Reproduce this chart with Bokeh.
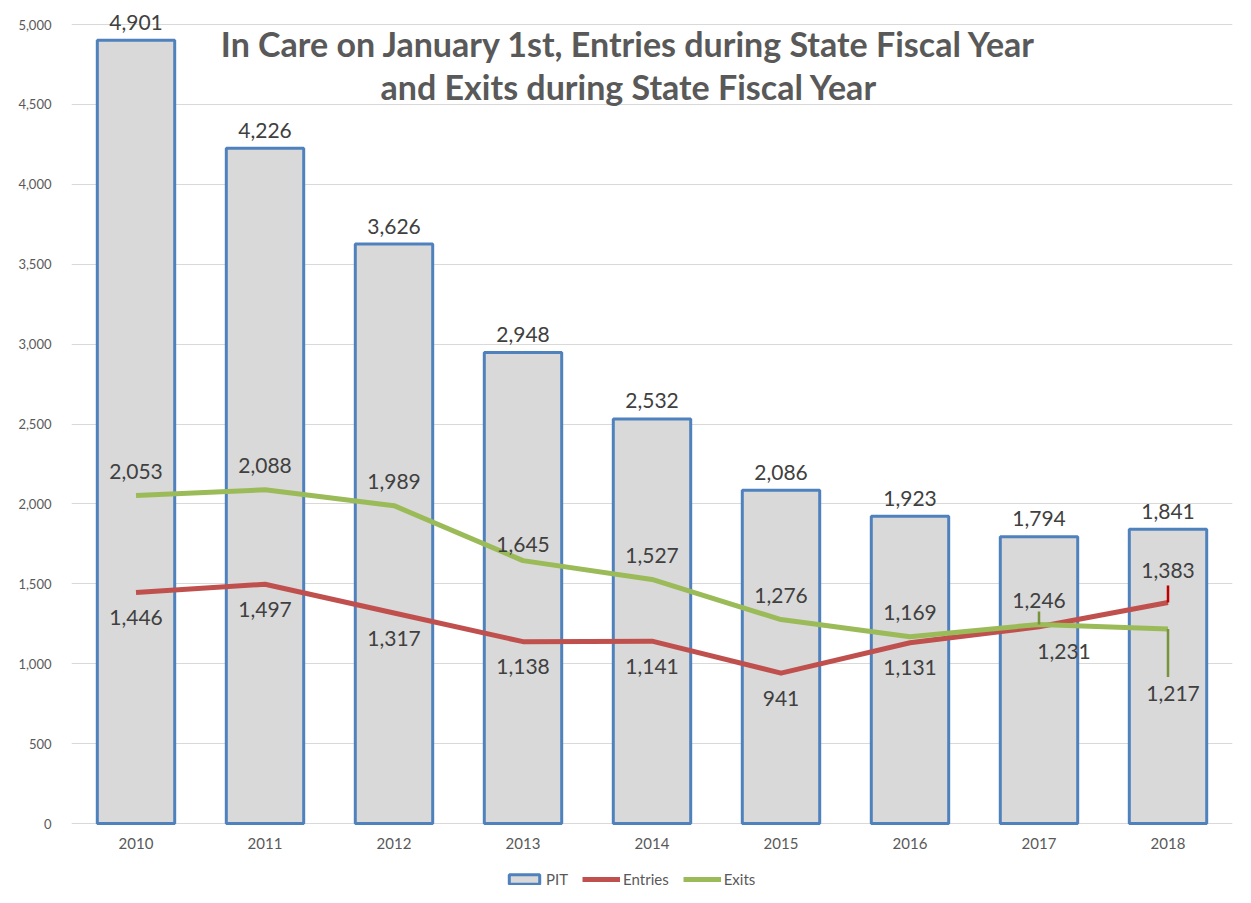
from bokeh.plotting import figure
from bokeh.models import (ColumnDataSource, Range1d, FactorRange, Legend, LegendItem,
                          NumeralTickFormatter, FixedTicker, Label)
from bokeh.core.properties import value
from bokeh.embed import file_html
from bokeh.resources import INLINE

# ---- data ----
years = ["2010", "2011", "2012", "2013", "2014", "2015", "2016", "2017", "2018"]
pit = [4901, 4226, 3626, 2948, 2532, 2086, 1923, 1794, 1841]
entries = [1446, 1497, 1317, 1138, 1141, 941, 1131, 1231, 1383]
exits = [2053, 2088, 1989, 1645, 1527, 1276, 1169, 1246, 1217]
y_ticks = [0, 500, 1000, 1500, 2000, 2500, 3000, 3500, 4000, 4500, 5000]
title_lines = ["In Care on January 1st, Entries during State Fiscal Year",
               "and Exits during State Fiscal Year"]

# ---- layout constants (pixels) ----
W, H = 1235, 887
LEFT, RIGHT, TOP = 71, 3, 8
ZERO_PX = 823          # page y of value 0
TOP_VAL_PX = 24        # page y of value 5000
k = (ZERO_PX - TOP_VAL_PX) / 5000.0   # px per unit
px = 1.0 / k                          # units per px
Y_MAX = 5000 + (TOP_VAL_PX - TOP) * px
Y_MIN = -(H - ZERO_PX) * px

def y_at(py):
    return (ZERO_PX - py) * px

FONT = "Lato"
TXT = "#404040"
AX = "#595959"

def fmt(v):
    return f"{v:,}"

src = ColumnDataSource(dict(x=years, pit=pit, entries=entries, exits=exits))

p = figure(x_range=FactorRange(factors=years, range_padding=0),
           y_range=Range1d(Y_MIN, Y_MAX), width=W, height=H,
           output_backend="svg", toolbar_location=None, x_axis_location=None,
           min_border_left=LEFT, min_border_right=RIGHT,
           min_border_top=TOP, min_border_bottom=0)
p.outline_line_color = None
p.background_fill_color = "white"

bars = p.vbar(x="x", top="pit", width=0.6, fill_color="#D9D9D9",
              line_color="#4F81BD", line_width=3, source=src)
l_ent = p.line(x="x", y="entries", line_color="#C0504D", line_width=5,
               line_join="round", source=src)
l_ex = p.line(x="x", y="exits", line_color="#9BBB59", line_width=5,
              line_join="round", source=src)

# leader lines for shifted labels
n = len(years)
lead_src = ColumnDataSource(dict(
    x0=[years[n - 1], years[n - 2], years[n - 1]],
    y0=[entries[n - 1], exits[n - 2], exits[n - 1]],
    x1=[years[n - 1], years[n - 2], years[n - 1]],
    y1=[entries[n - 1] + 17 * px, exits[n - 2] + 13 * px, exits[n - 1] - 48 * px],
    c=["#C00000", "#77933C", "#77933C"],
))
p.segment(x0="x0", y0="y0", x1="x1", y1="y1",
          line_color="c", line_width=2.5, source=lead_src)

# ---- data labels ----
LAB_SIZE = "21px"
bar_lab = ColumnDataSource(dict(x=years, y=pit, t=[fmt(v) for v in pit]))
p.text(x="x", y="y", text="t", source=bar_lab, text_font=value(FONT),
       text_font_size=LAB_SIZE, text_color=TXT, text_align="center",
       text_baseline="middle", y_offset=-18)

ent_dy = [25] * n
ent_dy[n - 1] = -32
ent_dx = [0] * n
ent_dx[n - 2] = 25
ent_lab = ColumnDataSource(dict(x=years, y=entries, t=[fmt(v) for v in entries],
                                dx=ent_dx, dy=ent_dy))
p.text(x="x", y="y", text="t", source=ent_lab, text_font=value(FONT),
       text_font_size=LAB_SIZE, text_color=TXT, text_align="center",
       text_baseline="middle", x_offset="dx", y_offset="dy")

ex_dy = [-24] * n
ex_dy[3] = -16
ex_dy[n - 1] = 64
ex_dx = [0] * n
ex_dx[n - 1] = 5
ex_lab = ColumnDataSource(dict(x=years, y=exits, t=[fmt(v) for v in exits],
                               dx=ex_dx, dy=ex_dy))
p.text(x="x", y="y", text="t", source=ex_lab, text_font=value(FONT),
       text_font_size=LAB_SIZE, text_color=TXT, text_align="center",
       text_baseline="middle", x_offset="dx", y_offset="dy")

# ---- category (x) labels drawn under the zero line ----
cat_lab = ColumnDataSource(dict(x=years, y=[0] * n, t=years))
p.text(x="x", y="y", text="t", source=cat_lab, text_font=value(FONT),
       text_font_size="15px", text_color=AX, text_align="center",
       text_baseline="middle", y_offset=20)

# ---- title ----
t_x = (628.5 - LEFT) / ((W - LEFT - RIGHT) / n)
for i, line in enumerate(title_lines):
    base_py = [43, 86][i]
    p.add_layout(Label(x=t_x, y=y_at(base_py), text=line,
                       text_font=FONT, text_font_style="bold",
                       text_font_size="34px", text_color=AX,
                       text_align="center", text_baseline="alphabetic"))

# ---- y axis ----
p.yaxis.ticker = FixedTicker(ticks=y_ticks)
p.yaxis.formatter = NumeralTickFormatter(format="0,0")
p.yaxis.axis_line_color = None
p.yaxis.major_tick_line_color = None
p.yaxis.minor_tick_line_color = None
p.yaxis.major_label_text_color = AX
p.yaxis.major_label_text_font = FONT
p.yaxis.major_label_text_font_size = "13px"
p.yaxis.major_label_standoff = 14

p.xgrid.grid_line_color = None
p.ygrid.ticker = FixedTicker(ticks=y_ticks)
p.ygrid.grid_line_color = "#D9D9D9"
p.ygrid.grid_line_width = 1

# ---- legend ----
legend = Legend(items=[LegendItem(label="PIT", renderers=[bars]),
                       LegendItem(label="Entries", renderers=[l_ent]),
                       LegendItem(label="Exits", renderers=[l_ex])],
                orientation="horizontal", location=(434, -1),
                glyph_width=38, glyph_height=12, label_height=12,
                label_standoff=3, spacing=14, padding=0, margin=0,
                label_text_font=FONT, label_text_font_size="15px",
                label_text_color=AX, label_text_baseline="middle",
                border_line_color=None, background_fill_alpha=0)
p.add_layout(legend, "center")

open("out.html", "w").write(file_html(p, INLINE))
